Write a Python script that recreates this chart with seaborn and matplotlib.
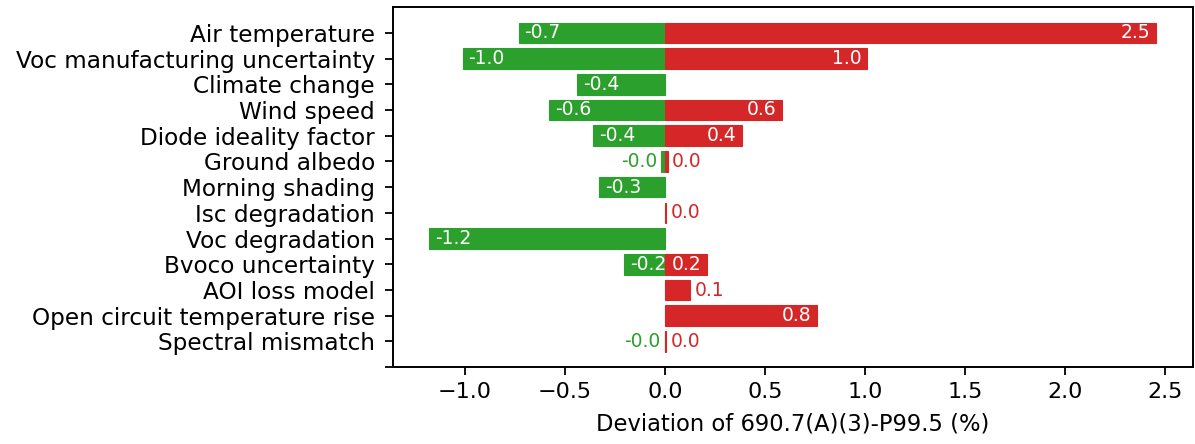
import matplotlib
matplotlib.use("Agg")
import matplotlib.pyplot as plt
import seaborn as sns
import pandas as pd

factors = [
    "Air temperature",
    "Voc manufacturing uncertainty",
    "Climate change",
    "Wind speed",
    "Diode ideality factor",
    "Ground albedo",
    "Morning shading",
    "Isc degradation",
    "Voc degradation",
    "Bvoco uncertainty",
    "AOI loss model",
    "Open circuit temperature rise",
    "Spectral mismatch",
]
neg_values = [-0.733, -1.013, -0.439, -0.579, -0.359, -0.02, -0.329, 0.0, -1.178, -0.205, 0.0, 0.0, -0.003]
pos_values = [2.455, 1.008, 0.0, 0.584, 0.384, 0.012, 0.0, 0.006, 0.0, 0.21, 0.125, 0.758, 0.006]
xlabel = "Deviation of 690.7(A)(3)-P99.5 (%)"

GREEN = "#2ca02c"
RED = "#d62728"

plt.rcParams["font.family"] = ["DejaVu Sans"]

fig = plt.figure(figsize=(11.95, 4.44), dpi=100)
ax = fig.add_axes([0.329, 0.173, 0.669, 0.811])

df = pd.DataFrame({"factor": factors, "neg": neg_values, "pos": pos_values})
sns.barplot(data=df, y="factor", x="neg", order=factors, color=GREEN, saturation=1,
            width=0.8, errorbar=None, linewidth=0.8, edgecolor=GREEN, orient="h", ax=ax)
sns.barplot(data=df, y="factor", x="pos", order=factors, color=RED, saturation=1,
            width=0.8, errorbar=None, linewidth=0.8, edgecolor=RED, orient="h", ax=ax)
# hide edges of zero-length bars
for p in ax.patches:
    if p.get_width() == 0:
        p.set_linewidth(0)

lab_fs = 13.5
for i, v in enumerate(neg_values):
    if v == 0:
        continue
    if abs(v) >= 0.15:
        ax.annotate(f"{v:.1f}", (v, i), xytext=(4, 0), textcoords="offset points",
                    ha="left", va="center", color="white", fontsize=lab_fs)
    else:
        ax.annotate(f"{v:.1f}", (v, i), xytext=(-3, 0), textcoords="offset points",
                    ha="right", va="center", color=GREEN, fontsize=lab_fs)
for i, v in enumerate(pos_values):
    if v == 0:
        continue
    if abs(v) >= 0.15:
        ax.annotate(f"{v:.1f}", (v, i), xytext=(-4, 0), textcoords="offset points",
                    ha="right", va="center", color="white", fontsize=lab_fs)
    else:
        ax.annotate(f"{v:.1f}", (v, i), xytext=(3, 0), textcoords="offset points",
                    ha="left", va="center", color=RED, fontsize=lab_fs)

ax.set_yticks(range(len(factors) + 1))
ax.set_yticklabels(factors + [""])
ax.set_ylim(len(factors), -1)
ax.set_ylabel("")
ax.set_xlabel(xlabel, fontsize=16.3, labelpad=7)
ax.tick_params(axis="both", width=1.3, length=6)
ax.tick_params(axis="y", labelsize=16.7, pad=7)
ax.tick_params(axis="x", labelsize=16, pad=5)
for s in ax.spines.values():
    s.set_linewidth(1.4)
    s.set_visible(True)

fig.savefig("out.png", dpi=100)
